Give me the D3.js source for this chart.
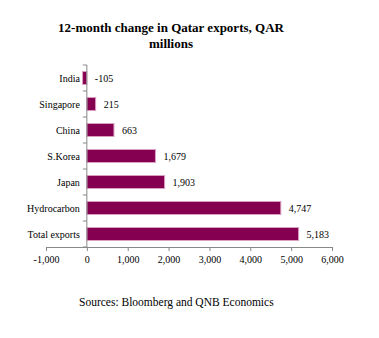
<!DOCTYPE html>
<html>
<head>
<meta charset="utf-8">
<script src="https://cdn.jsdelivr.net/npm/d3@7"></script>
<style>
  body { margin: 0; background: #fff; }
  svg text { font-family: "Liberation Serif", "Times New Roman", serif; fill: #000; }
</style>
</head>
<body>
<div id="chart"></div>
<script>
// chart data
var categories = ["India", "Singapore", "China", "S.Korea", "Japan", "Hydrocarbon", "Total exports"];
var values = [-105, 215, 663, 1679, 1903, 4747, 5183];
var xTicks = [-1000, 0, 1000, 2000, 3000, 4000, 5000, 6000];

var W = 379, H = 338;
var margin = {top: 65, right: 47, bottom: 91, left: 46},
    width = W - margin.left - margin.right,
    height = H - margin.top - margin.bottom;

var svg = d3.select("#chart")
    .append("svg")
        .attr("width", W)
        .attr("height", H);

// title
var title = svg.append("text")
    .attr("x", 171)
    .attr("y", 32)
    .attr("text-anchor", "middle")
    .style("font-size", "13px")
    .style("font-weight", "bold");
title.append("tspan").attr("x", 171).text("12-month change in Qatar exports, QAR");
title.append("tspan").attr("x", 171).attr("dy", 16).text("millions");

var g = svg.append("g")
    .attr("transform", "translate(" + margin.left + "," + margin.top + ")");

var x = d3.scaleLinear()
    .domain([-1000, 6000])
    .range([0, width]);

var y = d3.scaleBand()
    .domain(categories)
    .range([0, height])
    .paddingInner(0.5)
    .paddingOuter(0.25);

// plain hyphen for negatives, like the original
var comma = d3.format(",");
var fmt = function(d) { return comma(d).replace("\u2212", "-"); };

// bars
g.selectAll("rect.bar")
    .data(values)
    .enter()
    .append("rect")
        .attr("class", "bar")
        .attr("x", function(d) { return x(Math.min(0, d)); })
        .attr("y", function(d, i) { return y(categories[i]); })
        .attr("width", function(d) { return Math.abs(x(d) - x(0)); })
        .attr("height", y.bandwidth())
        .style("fill", "#860052")
        .style("stroke", "#d9a0c2")
        .style("stroke-width", 1);

// value labels
g.selectAll("text.val")
    .data(values)
    .enter()
    .append("text")
        .attr("class", "val")
        .attr("x", function(d) { return x(Math.max(0, d)) + 8; })
        .attr("y", function(d, i) { return y(categories[i]) + y.bandwidth() / 2; })
        .attr("dy", "0.35em")
        .style("font-size", "10px")
        .text(function(d) { return fmt(d); });

// x axis
var xAxis = g.append("g")
    .attr("transform", "translate(0," + height + ")")
    .call(d3.axisBottom(x).tickValues(xTicks).tickFormat(fmt).tickSize(4).tickSizeOuter(0));
xAxis.select(".domain").attr("stroke", "#888");
xAxis.selectAll(".tick line").attr("stroke", "#888");
xAxis.selectAll(".tick text")
    .attr("y", 9)
    .style("font-family", "Liberation Serif, serif")
    .style("font-size", "10px");

// y axis line at zero with boundary ticks
var yAxis = g.append("g")
    .attr("transform", "translate(" + x(0) + ",0)");
yAxis.append("line")
    .attr("y1", 0).attr("y2", height)
    .attr("stroke", "#888");
var step = y.step();
yAxis.selectAll("line.tk")
    .data(d3.range(categories.length + 1))
    .enter()
    .append("line")
        .attr("class", "tk")
        .attr("x1", -4).attr("x2", 0)
        .attr("y1", function(d) { return d * step; })
        .attr("y2", function(d) { return d * step; })
        .attr("stroke", "#888");

// category labels
g.selectAll("text.cat")
    .data(categories)
    .enter()
    .append("text")
        .attr("class", "cat")
        .attr("x", x(0) - 7)
        .attr("y", function(d) { return y(d) + y.bandwidth() / 2; })
        .attr("dy", "0.35em")
        .attr("text-anchor", "end")
        .style("font-size", "10px")
        .text(function(d) { return d; });

// source
svg.append("text")
    .attr("x", 79)
    .attr("y", 306)
    .style("font-size", "11.5px")
    .text("Sources: Bloomberg and QNB Economics");
</script>
</body>
</html>
